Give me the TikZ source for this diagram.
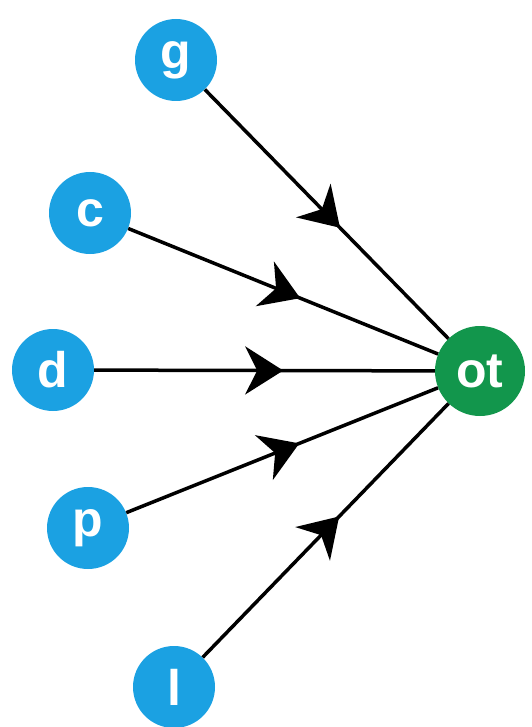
\documentclass[tikz,border=0pt]{standalone}
\usepackage{fontspec}
\setmainfont{Liberation Sans}
\usetikzlibrary{arrows.meta,decorations.markings}
\definecolor{nodeblue}{RGB}{27,161,226}
\definecolor{nodegreen}{RGB}{18,150,76}
\tikzset{
  srcnode/.style={circle, fill=nodeblue, minimum size=82pt, inner sep=0pt, text=white, font=\fontsize{50}{50}\selectfont\bfseries},
  dstnode/.style={circle, fill=nodegreen, minimum size=90pt, inner sep=0pt, text=white, font=\fontsize{50}{50}\selectfont\bfseries},
  edge/.style={line width=3.5pt, black, postaction={decorate},
    decoration={markings, mark=at position 0.555 with {\arrow{Stealth[length=38pt,width=48pt,inset=12pt]}}}}
}
\begin{document}
\begin{tikzpicture}[x=1pt,y=-1pt]
\useasboundingbox (0,0) rectangle (531,727);
\node[srcnode] (g) at (176,60) {g};
\node[srcnode] (c) at (90,213) {c};
\node[srcnode] (d) at (53,370) {d};
\node[srcnode] (p) at (88,528) {p};
\node[srcnode] (l) at (174,687) {l};
\node[dstnode] (ot) at (480,371) {ot};
\draw[edge] (g) -- (ot);
\draw[edge] (c) -- (ot);
\draw[edge] (d) -- (ot);
\draw[edge] (p) -- (ot);
\draw[edge] (l) -- (ot);
\end{tikzpicture}
\end{document}
